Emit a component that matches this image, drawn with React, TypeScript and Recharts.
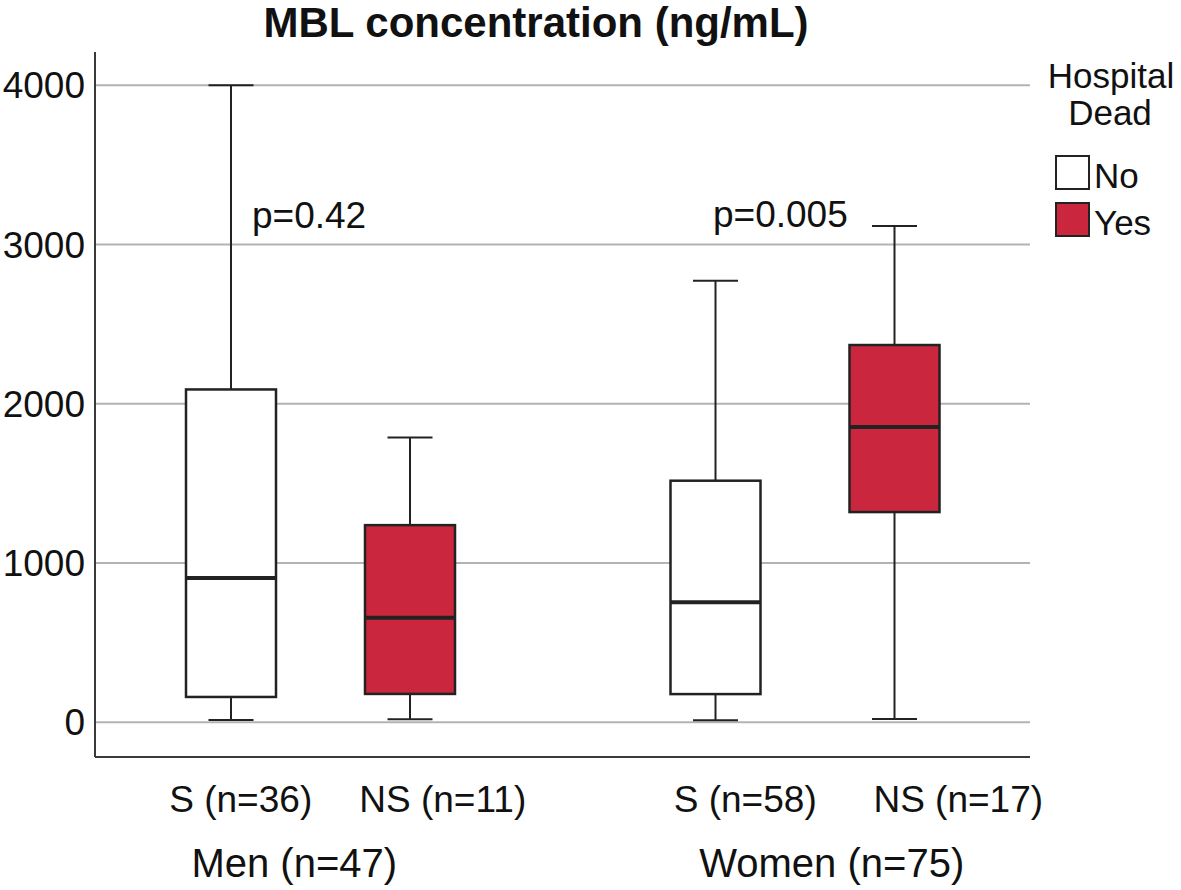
import React from 'react';
import { ComposedChart, Bar, XAxis, YAxis, CartesianGrid } from 'recharts';

const groups = ['Men (n=47)', 'Women (n=75)'];
const survivorLabels = ['S (n=36)', 'S (n=58)'];
const nonSurvivorLabels = ['NS (n=11)', 'NS (n=17)'];
const pValues = ['p=0.42', 'p=0.005'];
const legendNames = ['No', 'Yes'];

// Hospital dead = No (survivors)
const noMin = [14, 12];
const noQ1 = [159, 177];
const noMedian = [906, 753];
const noQ3 = [2090, 1517];
const noMax = [4000, 2772];

// Hospital dead = Yes (non-survivors)
const yesMin = [19, 21];
const yesQ1 = [178, 1320];
const yesMedian = [657, 1854];
const yesQ3 = [1238, 2369];
const yesMax = [1789, 3117];

const yTicks = [0, 1000, 2000, 3000, 4000];

const data = groups.map((group, i) => ({
  group,
  no: { min: noMin[i], q1: noQ1[i], median: noMedian[i], q3: noQ3[i], max: noMax[i] },
  yes: { min: yesMin[i], q1: yesQ1[i], median: yesMedian[i], q3: yesQ3[i], max: yesMax[i] },
}));

const FONT = '"Liberation Sans", Arial, Helvetica, sans-serif';
const RED = '#CA273F';
const INK = '#222222';

const makeBox = (key: 'no' | 'yes') => (props: any) => {
  const { x, y, width, height, payload, fill } = props;
  const s = payload[key];
  // map a value to pixels from the bar's own [min, max] extent
  const py = (v: number) => y + (height * (s.max - v)) / (s.max - s.min);
  const cx = x + width / 2;
  const cap = width / 4;
  return (
    <g>
      <line x1={cx} x2={cx} y1={py(s.max)} y2={py(s.q3)} stroke={INK} strokeWidth={2} />
      <line x1={cx} x2={cx} y1={py(s.q1)} y2={py(s.min)} stroke={INK} strokeWidth={2} />
      <line x1={cx - cap} x2={cx + cap} y1={py(s.max)} y2={py(s.max)} stroke={INK} strokeWidth={2} />
      <line x1={cx - cap} x2={cx + cap} y1={py(s.min)} y2={py(s.min)} stroke={INK} strokeWidth={2} />
      <rect x={x} y={py(s.q3)} width={width} height={py(s.q1) - py(s.q3)} fill={fill} stroke={INK} strokeWidth={2.5} />
      <line x1={x} x2={x + width} y1={py(s.median)} y2={py(s.median)} stroke={INK} strokeWidth={4} />
    </g>
  );
};

const SUB_SHIFT = [[10, 33], [30, 64]];
const GROUP_SHIFT = [-26, 27];

const GroupTick = (props: any) => {
  const { x, y, payload } = props;
  const i = payload.index;
  return (
    <g fontFamily={FONT}>
      <text x={x - 89.5 + SUB_SHIFT[i][0]} y={y + 55} textAnchor="middle" fontSize={37} fill="#111">
        {survivorLabels[i]}
      </text>
      <text x={x + 89.5 + SUB_SHIFT[i][1]} y={y + 55} textAnchor="middle" fontSize={37} fill="#111">
        {nonSurvivorLabels[i]}
      </text>
      <text x={x + GROUP_SHIFT[i]} y={y + 120} textAnchor="middle" fontSize={40} fill="#111">
        {payload.value}
      </text>
    </g>
  );
};

const LegendBlock = () => (
  <g fontFamily={FONT} fill="#111" fontSize={35}>
    <text x={1111} y={88} textAnchor="middle">Hospital</text>
    <text x={1110} y={125} textAnchor="middle">Dead</text>
    {legendNames.map((name, i) => (
      <g key={name}>
        <rect x={1056} y={156 + i * 47} width={33} height={33} fill={i === 0 ? '#fff' : RED} stroke={INK} strokeWidth={2} />
        <text x={1094} y={188 + i * 47}>{name}</text>
      </g>
    ))}
  </g>
);

export default function App() {
  return (
    <div style={{ position: 'absolute', left: 0, top: 0, width: 1181, height: 890, background: '#fff' }}>
      <ComposedChart
        width={1181}
        height={890}
        data={data}
        margin={{ top: 52, right: 151, bottom: 13, left: 0 }}
        barGap={89}
      >
        <text x={536} y={37} textAnchor="middle" fontFamily={FONT} fontSize={42} fontWeight="bold" fill="#111">
          MBL concentration (ng/mL)
        </text>
        <CartesianGrid vertical={false} stroke="#b3b3b3" strokeWidth={2} syncWithTicks />
        <XAxis
          dataKey="group"
          height={120}
          padding={{ left: -17, right: -17 }}
          tickLine={false}
          tickSize={0}
          tickMargin={0}
          axisLine={{ stroke: '#3a3a3a', strokeWidth: 2 }}
          tick={<GroupTick />}
          interval={0}
        />
        <YAxis
          width={95}
          domain={[-218, 4209]}
          ticks={yTicks}
          allowDataOverflow
          tickLine={false}
          tickSize={0}
          tickMargin={10}
          axisLine={{ stroke: '#3a3a3a', strokeWidth: 2 }}
          tick={{ fontSize: 37, fill: '#111', fontFamily: FONT }}
        />
        <Bar
          name="No"
          dataKey={(d: any) => [d.no.min, d.no.max]}
          fill="#ffffff"
          barSize={90}
          shape={makeBox('no')}
          isAnimationActive={false}
        />
        <Bar
          name="Yes"
          dataKey={(d: any) => [d.yes.min, d.yes.max]}
          fill={RED}
          barSize={90}
          shape={makeBox('yes')}
          isAnimationActive={false}
        />
        <text x={252} y={228} fontFamily={FONT} fontSize={37} fill="#111">
          {pValues[0]}
        </text>
        <text x={713} y={227} fontFamily={FONT} fontSize={37} fill="#111">
          {pValues[1]}
        </text>
        <LegendBlock />
      </ComposedChart>
    </div>
  );
}
